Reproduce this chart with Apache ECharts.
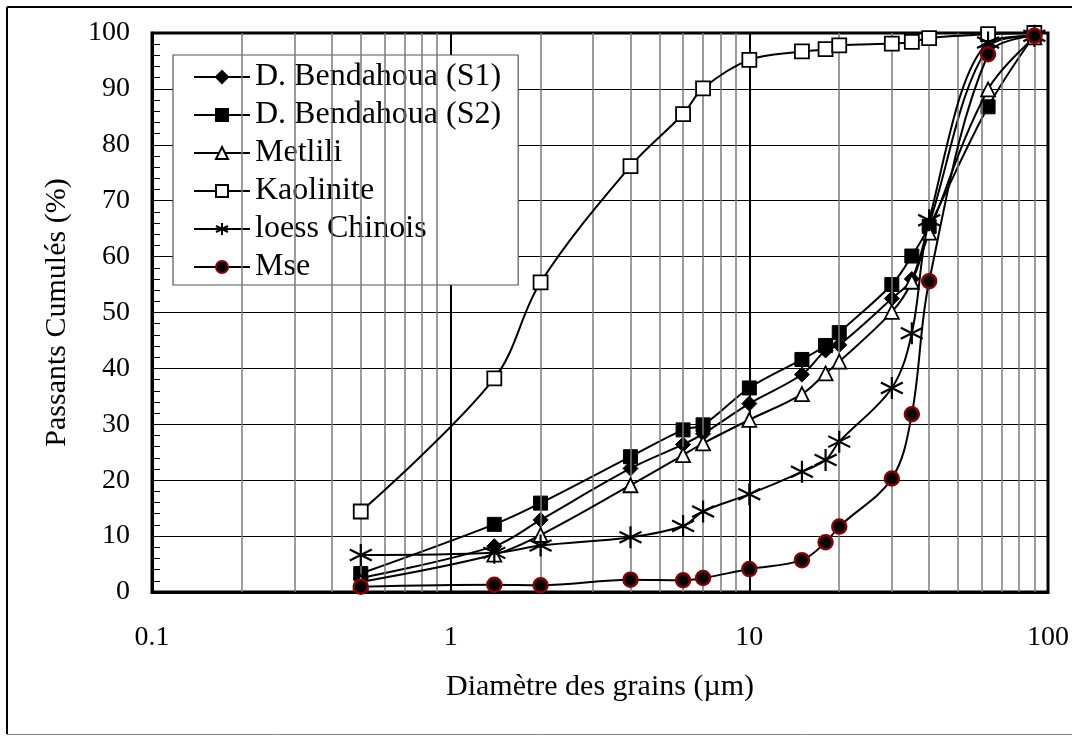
<!DOCTYPE html>
<html>
<head>
<meta charset="utf-8">
<script src="https://cdn.jsdelivr.net/npm/echarts@6/dist/echarts.min.js"></script>
<style>
html,body{margin:0;padding:0;background:#fff;}
#chart{width:1072px;height:736px;}
</style>
</head>
<body>
<div id="chart"></div>
<script>
// Diameters (µm)
var diameters = [0.5, 1.4, 2, 4, 6, 7, 10, 15, 18, 20, 30, 35, 40, 63, 90];
// Cumulative passing (%)
var bendahouaS1 = [2.5, 8.2, 12.9, 22.1, 26.4, 28.3, 33.7, 38.9, 43.2, 44.2, 52.5, 56.0, 65.8, 97.5, 99.5];
var bendahouaS2 = [3.3, 12.1, 15.9, 24.2, 29.0, 29.9, 36.5, 41.6, 44.1, 46.4, 55.0, 60.1, 65.4, 86.8, 99.6];
var metlili     = [1.8, 6.7, 10.2, 19.1, 24.5, 26.6, 30.8, 35.4, 39.1, 41.2, 50.1, 55.5, 64.3, 89.9, 99.2];
var kaolinite   = [14.4, 38.2, 55.4, 76.2, 85.5, 90.1, 95.2, 96.7, 97.1, 97.8, 98.1, 98.4, 99.1, 99.8, 100];
var loessChinois= [6.6, 7.0, 8.3, 9.8, 11.8, 14.4, 17.5, 21.5, 23.6, 26.9, 36.5, 46.3, 66.5, 98.3, 99.5];
var mse         = [0.95, 1.3, 1.2, 2.2, 2.1, 2.5, 4.1, 5.7, 8.9, 11.7, 20.3, 31.8, 55.6, 96.2, 99.5];

var seriesNames = ['D. Bendahoua (S1)', 'D. Bendahoua (S2)', 'Metlili', 'Kaolinite', 'loess Chinois', 'Mse'];
// x tick labels and minor vertical grid positions
var xTickLabels = ['0.1', '1', '10', '100'];
var minorGridX = [0.2, 0.3, 0.4, 0.5, 0.6, 0.7, 0.8, 0.9, 2, 3, 4, 5, 6, 7, 8, 9, 20, 30, 40, 50, 60, 70, 80, 90];

var FONT = '"Liberation Serif", "Times New Roman", serif';

function pairs(ys) {
  return diameters.map(function (d, i) { return [d, ys[i]]; });
}

var asterisk = 'path://M0,-10L0,10M-8.66,-5L8.66,5M-8.66,5L8.66,-5';

var styles = [
  {symbol: 'diamond', size: 15, item: {color: '#000', borderColor: '#000', borderWidth: 1}},
  {symbol: 'rect', size: 14, item: {color: '#000', borderColor: '#000', borderWidth: 1}},
  {symbol: 'triangle', size: 14, item: {color: '#fff', borderColor: '#000', borderWidth: 1.8}},
  {symbol: 'rect', size: 14, item: {color: '#fff', borderColor: '#000', borderWidth: 1.8}},
  {symbol: asterisk, size: 22, item: {color: 'rgba(0,0,0,0)', borderColor: '#000', borderWidth: 2.2}},
  {symbol: 'circle', size: 14, item: {color: '#000', borderColor: '#8b0000', borderWidth: 2.5}}
];
var dataSets = [bendahouaS1, bendahouaS2, metlili, kaolinite, loessChinois, mse];

var series = dataSets.map(function (ys, i) {
  return {
    name: seriesNames[i],
    type: 'line',
    data: pairs(ys),
    smooth: 0.35,
    symbol: styles[i].symbol,
    symbolSize: styles[i].size,
    showAllSymbol: true,
    itemStyle: styles[i].item,
    lineStyle: {color: '#000', width: 2},
    z: 3 + i,
    animation: false
  };
});

series.unshift({
  name: 'grid-helper',
  type: 'line',
  data: [],
  silent: true,
  z: 1,
  animation: false,
  markLine: {
    silent: true,
    symbol: 'none',
    animation: false,
    label: {show: false},
    lineStyle: {color: '#7a7a7a', width: 1.5, type: 'solid'},
    data: minorGridX.map(function (v) { return {xAxis: v}; })
  }
});

var chart = echarts.init(document.getElementById('chart'), null, {renderer: 'canvas'});
chart.setOption({
  backgroundColor: '#fff',
  animation: false,
  textStyle: {fontFamily: FONT},
  grid: {left: 152, right: 22, top: 33, bottom: 144, show: true, borderColor: '#000', borderWidth: 3, backgroundColor: 'transparent'},
  legend: {
    data: seriesNames,
    orient: 'vertical',
    left: 173,
    top: 55,
    padding: [6, 17, 2, 20],
    itemWidth: 56,
    itemHeight: 15,
    itemGap: 6,
    backgroundColor: '#fff',
    borderColor: '#555',
    borderWidth: 1.2,
    borderRadius: 0,
    textStyle: {fontFamily: FONT, fontSize: 32, color: '#000', lineHeight: 30},
    selectedMode: false
  },
  xAxis: {
    type: 'log',
    logBase: 10,
    min: 0.1,
    max: 100,
    name: 'Diamètre des grains (µm)',
    nameLocation: 'middle',
    nameGap: 80,
    nameTextStyle: {fontFamily: FONT, fontSize: 30, color: '#000'},
    axisLine: {show: true, lineStyle: {color: '#000', width: 3}},
    axisTick: {show: false},
    axisLabel: {
      fontFamily: FONT, fontSize: 28, color: '#000', margin: 32,
      formatter: function (v) {
        var e = Math.round(Math.log10(v)) + 1;
        return xTickLabels[e] !== undefined ? xTickLabels[e] : String(v);
      }
    },
    splitLine: {show: true, lineStyle: {color: '#000', width: 2}},
    minorTick: {show: false},
    minorSplitLine: {show: false}
  },
  yAxis: {
    type: 'value',
    min: 0,
    max: 100,
    interval: 10,
    name: 'Passants Cumulés (%)',
    nameLocation: 'middle',
    nameGap: 80,
    nameRotate: 90,
    nameTextStyle: {fontFamily: FONT, fontSize: 30, color: '#000'},
    axisLine: {show: true, lineStyle: {color: '#000', width: 3}},
    axisTick: {show: true, inside: true, length: 8, lineStyle: {color: '#000', width: 1}},
    minorTick: {show: true, splitNumber: 5, length: 8, lineStyle: {color: '#000', width: 1}},
    axisLabel: {fontFamily: FONT, fontSize: 28, color: '#000', margin: 22},
    splitLine: {show: true, lineStyle: {color: '#000', width: 1.2}}
  },
  graphic: [
    {type: 'line', shape: {x1: 7, y1: 7, x2: 1072, y2: 7}, style: {stroke: '#000', lineWidth: 2}, z: 100},
    {type: 'line', shape: {x1: 7, y1: 7, x2: 7, y2: 734}, style: {stroke: '#000', lineWidth: 2}, z: 100},
    {type: 'line', shape: {x1: 7, y1: 734.5, x2: 1072, y2: 734.5}, style: {stroke: '#888', lineWidth: 1}, z: 100}
  ],
  series: series
});
</script>
</body>
</html>
